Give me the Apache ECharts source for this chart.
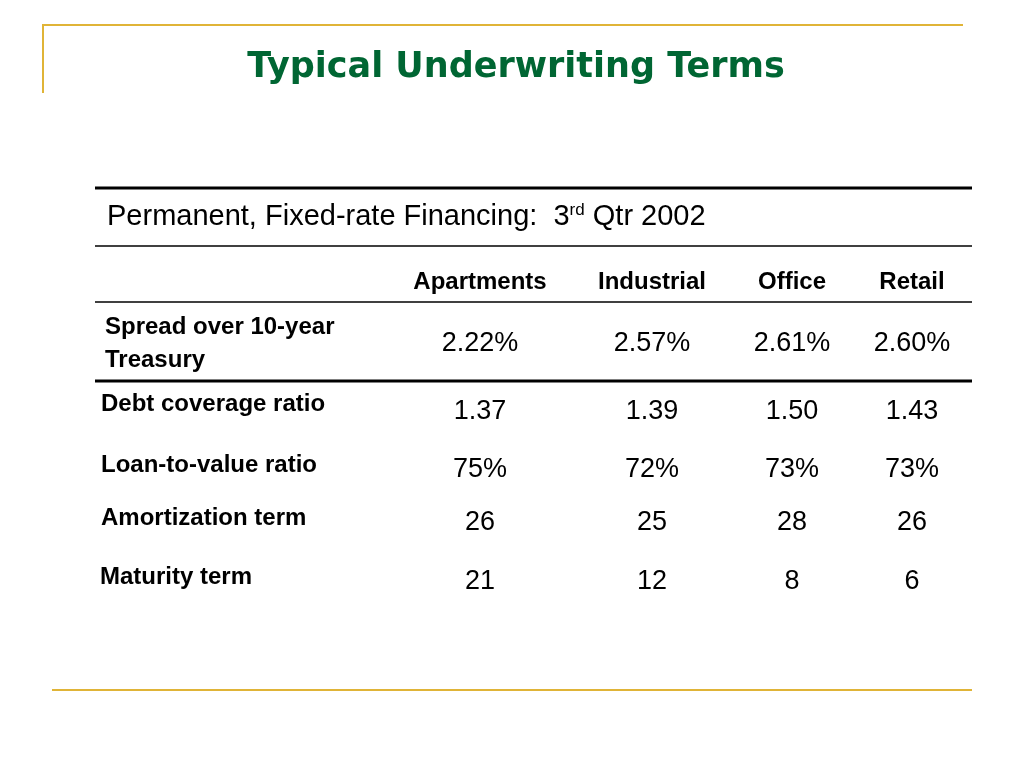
<!DOCTYPE html>
<html>
<head>
<meta charset="utf-8">
<script src="https://cdn.jsdelivr.net/npm/echarts@6/dist/echarts.min.js"></script>
<style>
html, body { margin: 0; padding: 0; background: #fff; overflow: hidden; }
#chart { width: 1024px; height: 768px; }
</style>
</head>
<body>
<div id="chart"></div>
<script>
// table data
var title = 'Typical Underwriting Terms';
var columns = ['Apartments', 'Industrial', 'Office', 'Retail'];
var rowLabels = [['Spread over 10-year', 'Treasury'], ['Debt coverage ratio'], ['Loan-to-value ratio'], ['Amortization term'], ['Maturity term']];
var spread = ['2.22%', '2.57%', '2.61%', '2.60%'];
var debtCoverage = ['1.37', '1.39', '1.50', '1.43'];
var loanToValue = ['75%', '72%', '73%', '73%'];
var amortization = ['26', '25', '28', '26'];
var maturity = ['21', '12', '8', '6'];
var rows = [spread, debtCoverage, loanToValue, amortization, maturity];

var colX = [480, 652, 792, 912];
var labelPos = [[105, 327], [101, 404], [101, 465], [101, 518], [100, 577]];
var valueY = [344, 412, 470, 523, 582];
var font = '"Liberation Sans", Arial, sans-serif';
var gold = '#E0B437';

var chart = echarts.init(document.getElementById('chart'));
var els = [];

function line(x1, y1, x2, y2, w, c) {
	els.push({ type: 'line', shape: { x1: x1, y1: y1, x2: x2, y2: y2 }, style: { stroke: c, lineWidth: w } });
}
function text(t, x, y, size, weight, align, color) {
	els.push({ type: 'text', x: x, y: y, style: { text: t, font: weight + ' ' + size + 'px ' + font, fill: color || '#000', align: align, verticalAlign: 'middle' } });
}

// frame
line(42, 25, 963, 25, 2, gold);
line(43, 25, 43, 93, 2, gold);
line(52, 690, 972, 690, 2, gold);

// title with shadow
els.push({ type: 'text', x: 516, y: 68, style: { text: title, font: 'bold 35px "DejaVu Sans", sans-serif', fill: '#006633', align: 'center', verticalAlign: 'middle', shadowColor: 'rgba(0,0,0,0.35)', shadowOffsetX: 2, shadowOffsetY: 2, shadowBlur: 1 } });

// table rules
line(95, 188, 972, 188, 3, '#000');
line(95, 246, 972, 246, 1.5, '#000');
line(95, 302, 972, 302, 1.5, '#000');
line(95, 381, 972, 381, 3, '#000');

// subtitle
els.push({ type: 'text', x: 107, y: 217, style: {
	text: '{a|Permanent, Fixed-rate Financing:  3}{s|rd}{a| Qtr 2002}',
	verticalAlign: 'middle',
	rich: {
		a: { font: '29px ' + font, fill: '#000' },
		s: { font: '17px ' + font, fill: '#000', verticalAlign: 'top', padding: [0, 0, 14, 0] }
	}
} });

// headers
columns.forEach(function (c, i) { text(c, colX[i], 282, 24, 'bold', 'center'); });

// rows
rowLabels.forEach(function (lbl, r) {
	lbl.forEach(function (t, k) { text(t, labelPos[r][0], labelPos[r][1] + k * 33, 24, 'bold', 'left'); });
	rows[r].forEach(function (v, i) { text(v, colX[i], valueY[r], 27, 'normal', 'center'); });
});

chart.setOption({ backgroundColor: '#fff', graphic: { elements: els } });
</script>
</body>
</html>
